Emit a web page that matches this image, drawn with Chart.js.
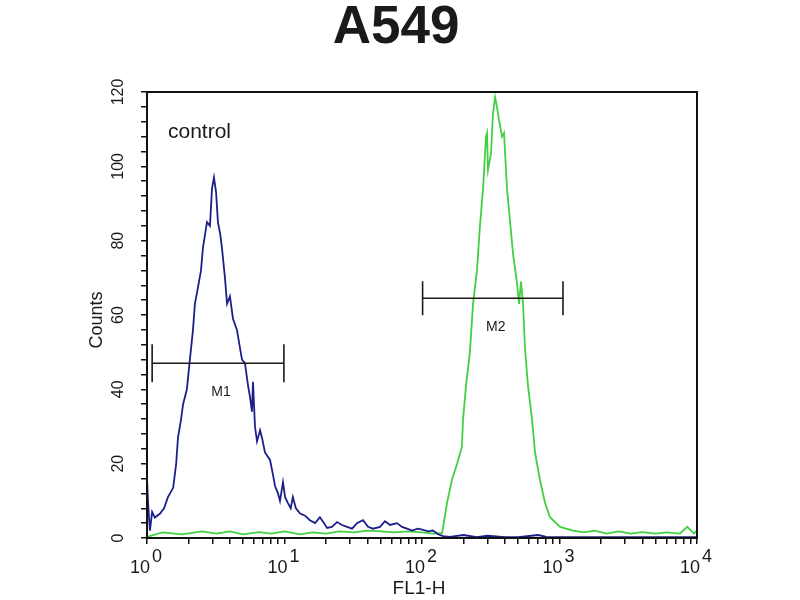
<!DOCTYPE html>
<html>
<head>
<meta charset="utf-8">
<script src="https://cdn.jsdelivr.net/npm/chart.js@4.4.0/dist/chart.umd.min.js"></script>
<style>
  html, body { margin: 0; padding: 0; background: #fff; }
  #wrap { position: relative; width: 800px; height: 600px; }
</style>
</head>
<body>
<div id="wrap"><canvas id="chart" width="800" height="600"></canvas></div>
<script>
// ─── Data ────────────────────────────────────────────────────────────────────

const titleText = 'A549';
const xTitle = 'FL1-H';
const yTitle = 'Counts';
const sampleLabel = 'control';

// control histogram (blue)
const blueX = [1.00, 1.02, 1.05, 1.09, 1.14, 1.24, 1.33, 1.42, 1.55, 1.63, 1.68, 1.77, 1.83, 1.95, 2.05, 2.16,
  2.23, 2.35, 2.47, 2.55, 2.73, 2.87, 2.97, 3.07, 3.18, 3.28, 3.40, 3.51, 3.69, 3.82, 4.01, 4.22, 4.51, 4.75,
  4.91, 5.16, 5.43, 5.61, 5.80, 5.90, 6.10, 6.31, 6.64, 6.86, 7.21, 7.85, 8.25, 8.53, 8.97, 9.27, 9.75, 10.1,
  10.6, 11.1, 11.5, 12.1, 13.0, 14.1, 15.3, 16.7, 18.1, 19.4, 20.4, 22.1, 24.1, 26.2, 28.5, 31.0, 33.7, 37.2,
  40.5, 44.0, 49.5, 53.8, 58.5, 65.8, 71.6, 77.8, 84.6, 93.5, 102, 111, 120, 131, 142, 160, 200, 250, 300,
  400, 500, 700, 800, 1000, 2000, 5000, 10000];
const blueY = [16, 9, 2, 7, 5.5, 6.5, 8, 11, 13.5, 20, 27, 32, 36, 40, 48, 56,
  63, 67.5, 72, 78, 85, 84, 94, 97, 93, 85, 82, 78, 70, 63, 65, 59, 56, 51,
  48, 47, 41, 38, 34, 42, 30, 26, 29, 27, 23, 21, 17, 14, 12, 10, 15, 11,
  9.4, 8, 11, 8, 6.6, 6, 4.8, 4, 5.6, 4, 2.7, 3, 4.3, 3.5, 3, 2.5, 4, 4.8,
  3, 2.5, 3, 4.5, 3.5, 4, 3, 2.5, 2, 2.5, 2.2, 1.8, 2, 1, 0.5, 0.3, 0.8, 0.2, 0.6,
  0.2, 0.2, 0.8, 0.3, 0.2, 0.2, 0.2, 0.2];

// stained sample histogram (green)
const greenX = [1.0, 1.3, 1.8, 2.5, 3.2, 4.0, 5.0, 6.5, 8.0, 10, 13, 16, 20, 25, 32, 40, 50, 63, 80, 100, 120,
  140, 152, 165, 180, 195, 199, 209, 223, 235, 251, 264, 278, 292, 297, 302, 318, 328, 340, 351, 363, 382,
  395, 415, 436, 459, 491, 508, 525, 543, 561, 590, 631, 664, 721, 785, 853, 1009, 1254, 1500, 1800, 2200,
  2700, 3300, 4000, 5000, 6000, 7500, 8500, 9500, 10000];
const greenY = [0.3, 1.5, 1, 1.8, 1.2, 1.8, 1, 1.6, 1.2, 1.8, 1, 1.5, 1.2, 1.8, 1.5, 2, 1.8, 1.5, 1.8, 1.5, 1.2,
  1.3, 9.4, 15.6, 20, 24.5, 32, 41, 50, 63, 72, 84, 94, 108, 109, 99, 103.6, 114, 118.6, 116, 112.5, 108,
  109, 94, 85.5, 76.6, 68.6, 63, 69, 63, 51, 41, 32, 23, 15.6, 9.4, 5.6, 3, 2, 1.5, 2, 1.2,
  1.8, 1.2, 1.6, 1.2, 1.5, 1.2, 3, 1.2, 2];

// gates
const markerNames = ['M1', 'M2'];
const markerStart = [1.09, 101];
const markerEnd = [9.9, 1060];
const markerLevel = [47, 64.5];

// axes
const xDecades = [1, 10, 100, 1000];
const xMinorSteps = [1, 2, 3, 4, 5, 6, 7, 8, 9];
const xExponents = [0, 1, 2, 3, 4];
const yLabels = [0, 20, 40, 60, 80, 100, 120];
const yMinorStep = 4;

// ─── Chart ───────────────────────────────────────────────────────────────────

const BLUE = '#1c1f8a';
const GREEN = '#42d042';
const INK = '#1a1a1a';
const FONT = '"Liberation Sans", Arial, sans-serif';

const toPoints = (xs, ys) => xs.map((x, i) => ({ x, y: ys[i] }));

const markerSets = markerNames.map((name, i) => ({
  label: name,
  data: [{ x: markerStart[i], y: markerLevel[i] }, { x: markerEnd[i], y: markerLevel[i] }],
  borderColor: INK,
  borderWidth: 1.6,
  pointStyle: 'line',
  rotation: 90,
  pointRadius: i === 0 ? 19 : 17,
  pointBorderColor: INK,
  pointBorderWidth: 1.6,
  showLine: true,
  clip: false,
  order: 0,
}));

const frameAndText = {
  id: 'frameAndText',
  afterDatasetsDraw(chart) {
    const { ctx, chartArea: a, scales: { x, y } } = chart;
    ctx.save();
    // plot frame
    ctx.strokeStyle = '#111';
    ctx.lineWidth = 2;
    ctx.strokeRect(a.left, a.top, a.right - a.left, a.bottom - a.top);

    ctx.fillStyle = INK;
    // title
    ctx.font = `bold 53px ${FONT}`;
    ctx.textAlign = 'center';
    ctx.textBaseline = 'alphabetic';
    ctx.fillText(titleText, 396, 43);

    // x tick labels 10^n
    ctx.font = `18px ${FONT}`;
    for (const e of xExponents) {
      const px = x.getPixelForValue(Math.pow(10, e));
      ctx.textAlign = 'right';
      ctx.fillText('10', px + 3, 573);
      ctx.textAlign = 'left';
      ctx.fillText(String(e), px + 5, 562);
    }

    // y tick labels, rotated
    ctx.font = `16px ${FONT}`;
    ctx.textAlign = 'center';
    ctx.textBaseline = 'middle';
    for (const v of yLabels) {
      const py = y.getPixelForValue(v);
      ctx.save();
      ctx.translate(119, py);
      ctx.rotate(-Math.PI / 2);
      ctx.fillText(String(v), 0, 0);
      ctx.restore();
    }

    // axis titles
    ctx.save();
    ctx.translate(97, 320);
    ctx.rotate(-Math.PI / 2);
    ctx.font = `18px ${FONT}`;
    ctx.fillText(yTitle, 0, 0);
    ctx.restore();
    ctx.font = `19px ${FONT}`;
    ctx.textBaseline = 'alphabetic';
    ctx.fillText(xTitle, 419, 594);

    // sample label
    ctx.font = `21px ${FONT}`;
    ctx.textAlign = 'left';
    ctx.fillText(sampleLabel, 168, 138);

    // gate names under the bars
    ctx.font = `14px ${FONT}`;
    ctx.textAlign = 'center';
    ctx.textBaseline = 'middle';
    markerNames.forEach((name, i) => {
      const mid = Math.sqrt(markerStart[i] * markerEnd[i]);
      ctx.fillText(name, x.getPixelForValue(mid) + 3, y.getPixelForValue(markerLevel[i]) + 29);
    });
    ctx.restore();
  },
};

new Chart(document.getElementById('chart'), {
  type: 'scatter',
  data: {
    datasets: [
      {
        label: 'sample',
        data: toPoints(greenX, greenY),
        borderColor: GREEN,
        borderWidth: 1.8,
        showLine: true,
        pointRadius: 0,
        tension: 0,
        order: 2,
      },
      {
        label: 'control',
        data: toPoints(blueX, blueY),
        borderColor: BLUE,
        borderWidth: 1.8,
        showLine: true,
        pointRadius: 0,
        tension: 0,
        order: 1,
      },
      ...markerSets,
    ],
  },
  options: {
    responsive: false,
    animation: false,
    layout: { padding: { left: 137, right: 103, top: 92, bottom: 52 } },
    plugins: {
      legend: { display: false },
      tooltip: { enabled: false },
    },
    scales: {
      x: {
        type: 'logarithmic',
        min: 1,
        max: 10000,
        afterBuildTicks: s => {
          const t = [];
          for (const d of xDecades) for (const m of xMinorSteps) t.push({ value: d * m });
          t.push({ value: 10000 });
          s.ticks = t;
        },
        afterFit: s => { s.height = 10; },
        ticks: { display: false },
        border: { display: false },
        grid: { drawOnChartArea: false, drawTicks: true, tickLength: 6, color: '#111', lineWidth: 1.5 },
      },
      y: {
        min: 0,
        max: 120,
        afterBuildTicks: s => {
          const t = [];
          for (let v = 0; v <= 120; v += yMinorStep) t.push({ value: v });
          s.ticks = t;
        },
        afterFit: s => { s.width = 10; },
        ticks: { display: false },
        border: { display: false },
        grid: { drawOnChartArea: false, drawTicks: true, tickLength: 6, color: '#111', lineWidth: 1.5 },
      },
    },
  },
  plugins: [frameAndText],
});
</script>
</body>
</html>
